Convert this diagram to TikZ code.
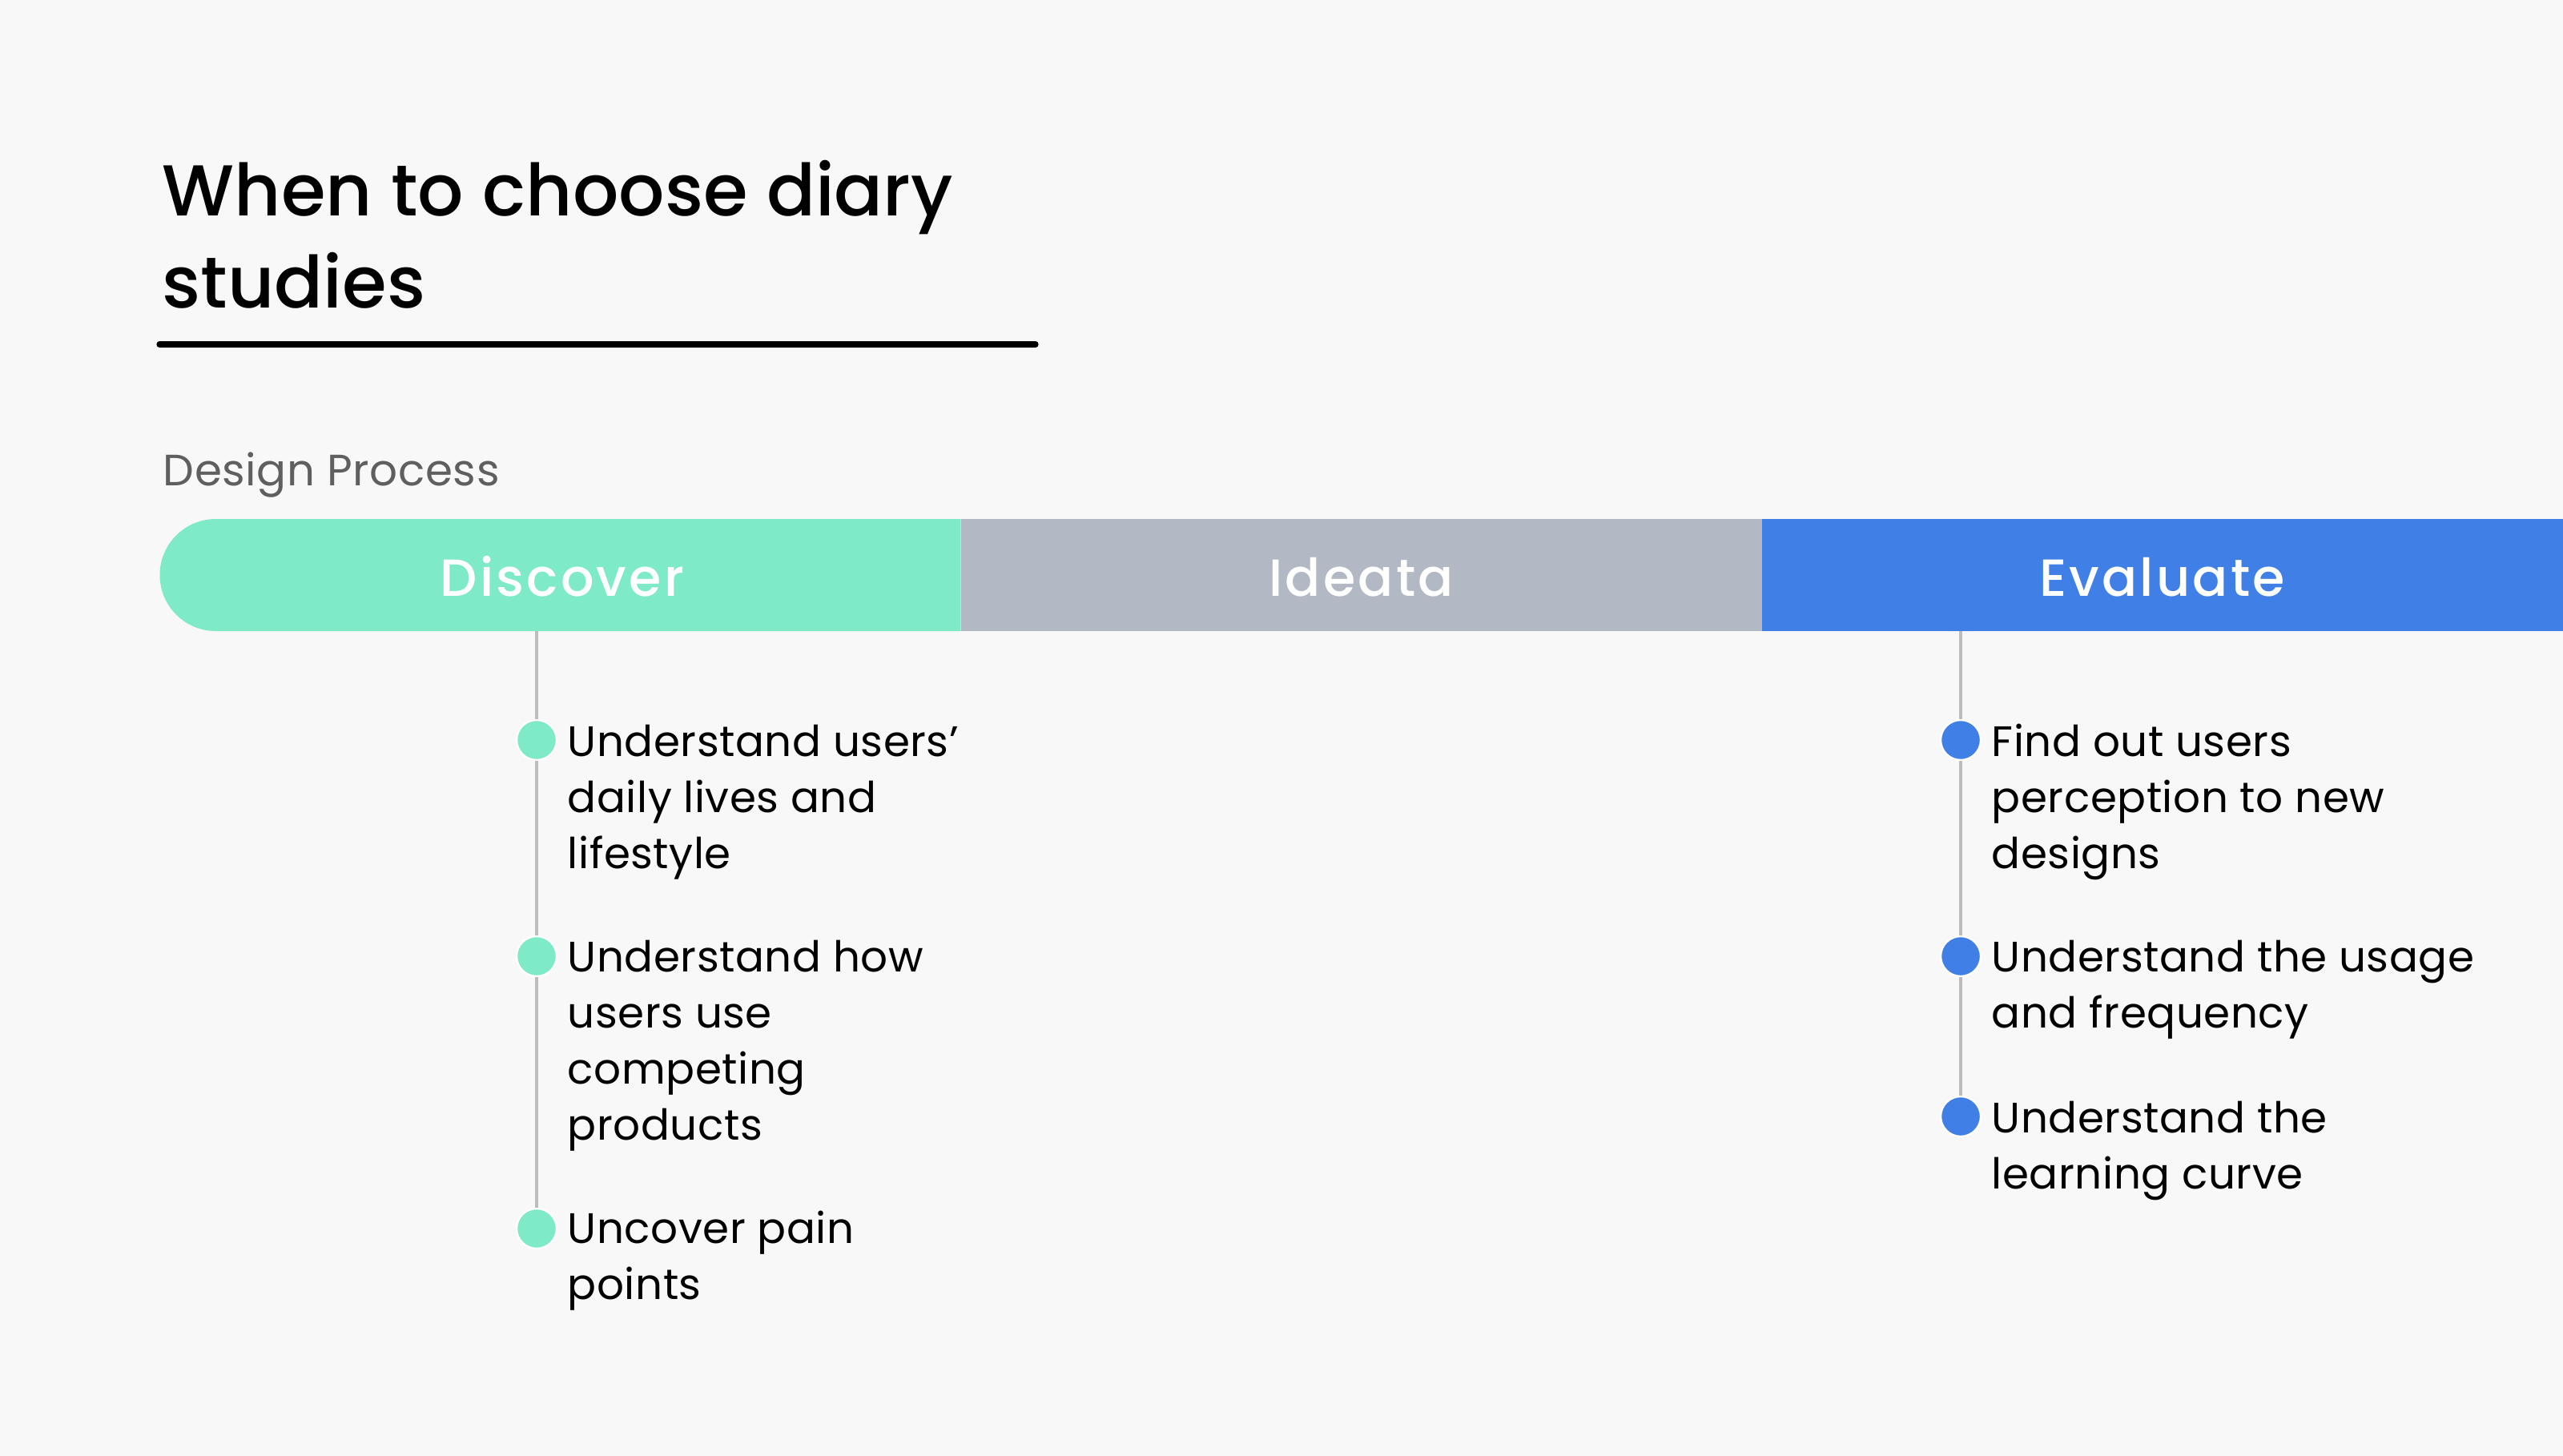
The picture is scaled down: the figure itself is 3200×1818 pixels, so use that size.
\documentclass[tikz,border=0pt]{standalone}
\usepackage{fontspec}
\setmainfont{Poppins}[LetterSpace=1]
\newfontfamily\titlefont{Poppins Medium}
\newfontfamily\barfont{Poppins Medium}[LetterSpace=5]
\usetikzlibrary{positioning,shapes.misc}
\definecolor{paper}{HTML}{F8F8F8}
\definecolor{mint}{HTML}{7EEAC8}
\definecolor{slate}{HTML}{B3B9C4}
\definecolor{evalblue}{HTML}{407FE6}
\definecolor{railgray}{HTML}{BDBDBD}
\definecolor{subgray}{HTML}{5F5F5F}
\begin{document}
\begin{tikzpicture}[x=0.25pt, y=-0.25pt,
      phase/.style = {minimum width=250pt, minimum height=35pt, inner sep=0pt, outer sep=0pt,
                      text=white, text height=13pt, text depth=0pt,
                      font=\barfont\fontsize{16.3}{20}\selectfont},
      item/.style = {anchor=base west, align=left, inner sep=0pt,
                     font=\fontsize{13.3}{17.5}\selectfont},
      dot/.style = {circle, draw=white, line width=0.6pt, minimum size=12.5pt, inner sep=0pt},
      rail/.style = {draw=railgray, line width=0.9pt}
      ]
      \fill[paper] (0,0) rectangle (3200,1818);
      % heading (base = last line)
      \node[anchor=base west, align=left, inner sep=0pt,
            font=\titlefont\fontsize{22.5}{28.75}\selectfont] (title) at (202,385)
            {When to choose diary\\studies};
      \draw[line width=1.8pt, line cap=round] (199,430) -- (1293,430);
      \node[anchor=base west, inner sep=0pt, text=subgray,
            font=\fontsize{13.7}{16}\selectfont] (process) at (203,606) {Design Process};
      % phases
      \node[phase, fill=mint, rounded rectangle, rounded rectangle right arc=none] (discover) at (702,718) {Discover};
      \node[phase, fill=slate, right=0pt of discover] (ideata) {Ideata};
      \node[phase, fill=evalblue, right=0pt of ideata] (evaluate) {Evaluate};
      % discover items
      \node[dot, fill=mint] (d1) at (670,924) {};
      \node[dot, fill=mint] (d2) at (670,1194) {};
      \node[dot, fill=mint] (d3) at (670,1534) {};
      \draw[rail] (d1 |- discover.south) -- (d1) -- (d2) -- (d3);
      \node[item] (dtext1) at (708,1084) {Understand users’\\daily lives and\\lifestyle};
      \node[item] (dtext2) at (708,1423) {Understand how\\users use\\competing\\products};
      \node[item] (dtext3) at (708,1622) {Uncover pain\\points};
      % evaluate items
      \node[dot, fill=evalblue] (e1) at (2448,924) {};
      \node[dot, fill=evalblue] (e2) at (2448,1194) {};
      \node[dot, fill=evalblue] (e3) at (2448,1394) {};
      \draw[rail] (e1 |- evaluate.south) -- (e1) -- (e2) -- (e3);
      \node[item] (etext1) at (2486,1084) {Find out users\\perception to new\\designs};
      \node[item] (etext2) at (2486,1283) {Understand the usage\\and frequency};
      \node[item] (etext3) at (2486,1484) {Understand the\\learning curve};
    \end{tikzpicture}
\end{document}
